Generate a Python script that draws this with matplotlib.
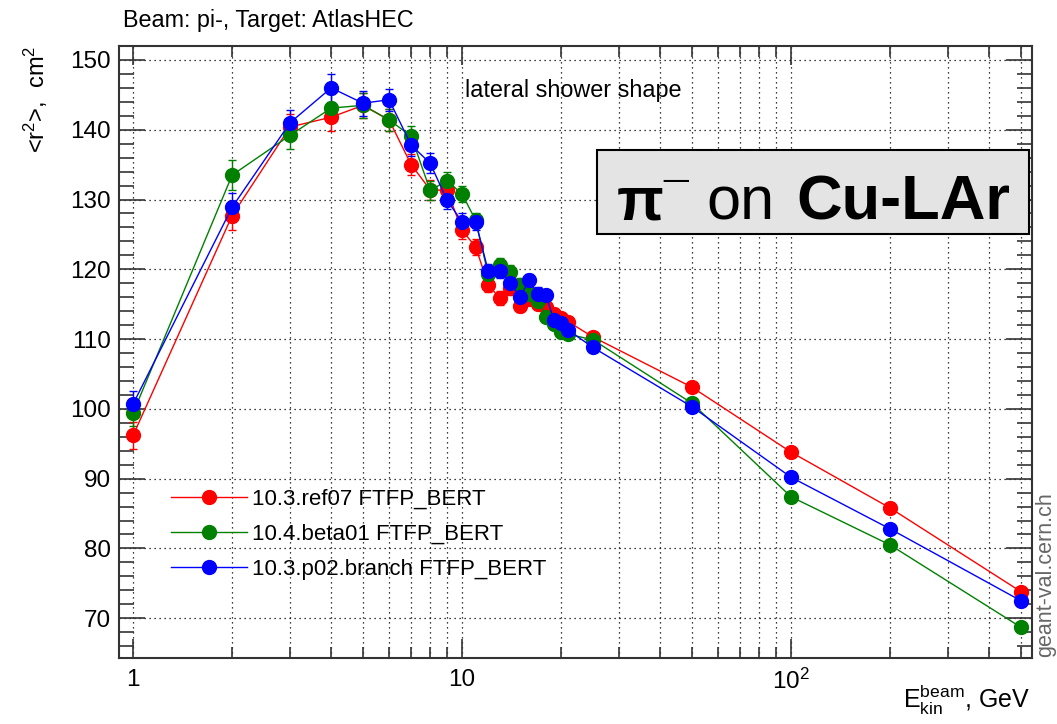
import matplotlib
matplotlib.use("Agg")
import matplotlib.pyplot as plt
from matplotlib.lines import Line2D
from matplotlib.patches import Rectangle
from matplotlib.ticker import LogLocator, FixedLocator, FuncFormatter, MultipleLocator, NullFormatter

plt.rcParams['font.family'] = ['Liberation Sans', 'DejaVu Sans']
plt.rcParams['mathtext.fontset'] = 'custom'
plt.rcParams['mathtext.rm'] = 'Liberation Sans'
plt.rcParams['mathtext.it'] = 'Liberation Sans:italic'
plt.rcParams['mathtext.bf'] = 'Liberation Sans:bold'

energy = [1, 2, 3, 4, 5, 6, 7, 8, 9, 10, 11, 12, 13, 14, 15, 16, 17, 18, 19, 20, 21, 25, 50, 100, 200, 500]

ref07 = [96.2, 127.7, 140.4, 141.8, 143.5, 141.4, 135.0, 131.4, 131.3, 125.6, 123.2, 117.8, 115.9, 117.3,
         114.8, 115.8, 115.0, 114.6, 113.6, 113.0, 112.5, 110.3, 103.1, 93.8, 85.8, 73.8]
beta01 = [99.4, 133.5, 139.2, 143.1, 143.5, 141.4, 139.1, 131.3, 132.7, 130.8, 127.0, 119.3, 120.6, 119.6,
          117.8, 116.5, 115.5, 113.2, 112.2, 111.0, 110.7, 109.9, 100.8, 87.4, 80.5, 68.7]
p02 = [100.7, 128.9, 141.0, 146.0, 143.8, 144.3, 137.8, 135.2, 129.9, 126.8, 126.8, 119.8, 119.8, 118.0,
       116.1, 118.4, 116.5, 116.3, 112.7, 112.3, 111.3, 108.8, 100.3, 90.2, 82.8, 72.5]
err = [1.9, 2.1, 1.9, 2.0, 1.8, 1.6, 1.5, 1.4, 1.3, 1.2, 1.1, 1.0, 1.0, 1.0, 0.9, 0.9, 0.9, 0.8, 0.8, 0.8,
       0.7, 0.7, 0.5, 0.4, 0.3, 0.3]

series = [
    ("10.3.ref07 FTFP_BERT", ref07, "#ff0000"),
    ("10.4.beta01 FTFP_BERT", beta01, "#008000"),
    ("10.3.p02.branch FTFP_BERT", p02, "#0000ff"),
]

W, H = 1057, 724
fig = plt.figure(figsize=(W / 100, H / 100), dpi=100)
ax = fig.add_axes([119 / W, 1 - 658 / H, (1032 - 119) / W, (658 - 46) / H])

handles = []
for label, vals, col in series:
    ax.errorbar(energy, vals, yerr=err, color=col, marker='o', markersize=10, lw=1.0,
                elinewidth=1.0, capsize=3, capthick=1.0)
    handles.append(Line2D([], [], color=col, marker='o', markersize=10, lw=1.0, label=label))

ax.set_xscale('log')
ax.set_xlim(0.906, 540)
ax.set_ylim(64.3, 152)

ax.xaxis.set_major_locator(FixedLocator([1, 10, 100]))
ax.xaxis.set_minor_locator(LogLocator(base=10, subs=range(2, 10), numticks=20))
ax.xaxis.set_minor_formatter(NullFormatter())
lab = {1: "1", 10: "10", 100: "$10^2$"}
ax.xaxis.set_major_formatter(FuncFormatter(lambda v, p: lab.get(int(round(v)), "")))
ax.yaxis.set_major_locator(MultipleLocator(10))
ax.yaxis.set_minor_locator(MultipleLocator(2))

ax.tick_params(which='both', direction='in', top=True, right=True, labelsize=17.5, width=1.2, color='#333333')
ax.tick_params(axis='x', which='major', length=14, pad=8)
ax.tick_params(axis='x', which='minor', length=8)
ax.tick_params(axis='y', which='major', length=19, pad=6)
ax.tick_params(axis='y', which='minor', length=11)

ax.grid(True, which='major', axis='both', linestyle=(0, (1, 3)), color='black', lw=0.9)
ax.grid(True, which='minor', axis='x', linestyle=(0, (1, 3)), color='black', lw=0.9)
ax.set_axisbelow(True)
for sp in ax.spines.values():
    sp.set_linewidth(1.5)
    sp.set_color('#333333')

ax.set_ylabel("<r$^2$>,  cm$^2$", loc='top', fontsize=17, labelpad=14)
fig.text(1030 / W, 1 - 700 / H, r"E$_{\rm kin}^{\rm beam}$, GeV", fontsize=18, ha='right', va='center')

fig.text(123 / W, 1 - 20 / H, "Beam: pi-, Target: AtlasHEC", fontsize=16.8, ha='left', va='center')
fig.text(465 / W, 1 - 90 / H, "lateral shower shape", fontsize=16.8, ha='left', va='center')

ax.legend(handles=handles, loc='upper left',
          bbox_to_anchor=(32 / (1032 - 119), 1 - (469 - 46) / (658 - 46)),
          frameon=False, fontsize=16, handlelength=3.4, labelspacing=0.62, handletextpad=0.25)

# label box
fig.patches.append(Rectangle((597 / W, 1 - 234 / H), (1029 - 597) / W, (234 - 150) / H,
                             transform=fig.transFigure, facecolor='#e4e4e4', edgecolor='black', lw=1.5))
base = 1 - 220 / H
fig.text(617 / W, base, "π", fontsize=44, fontweight='bold', ha='left', va='baseline')
fig.text(663 / W, base + 6 / H, "¯", fontsize=32, fontweight='bold', ha='left', va='baseline')
fig.text(706 / W, base, "on", fontsize=44, ha='left', va='baseline')
fig.text(796 / W, base, "Cu-LAr", fontsize=45.5, fontweight='bold', ha='left', va='baseline')

fig.text(1046 / W, 1 - 657 / H, "geant-val.cern.ch", rotation=90, fontsize=15.5, color='#666666',
         ha='center', va='bottom')

fig.savefig("out.png", dpi=100)
